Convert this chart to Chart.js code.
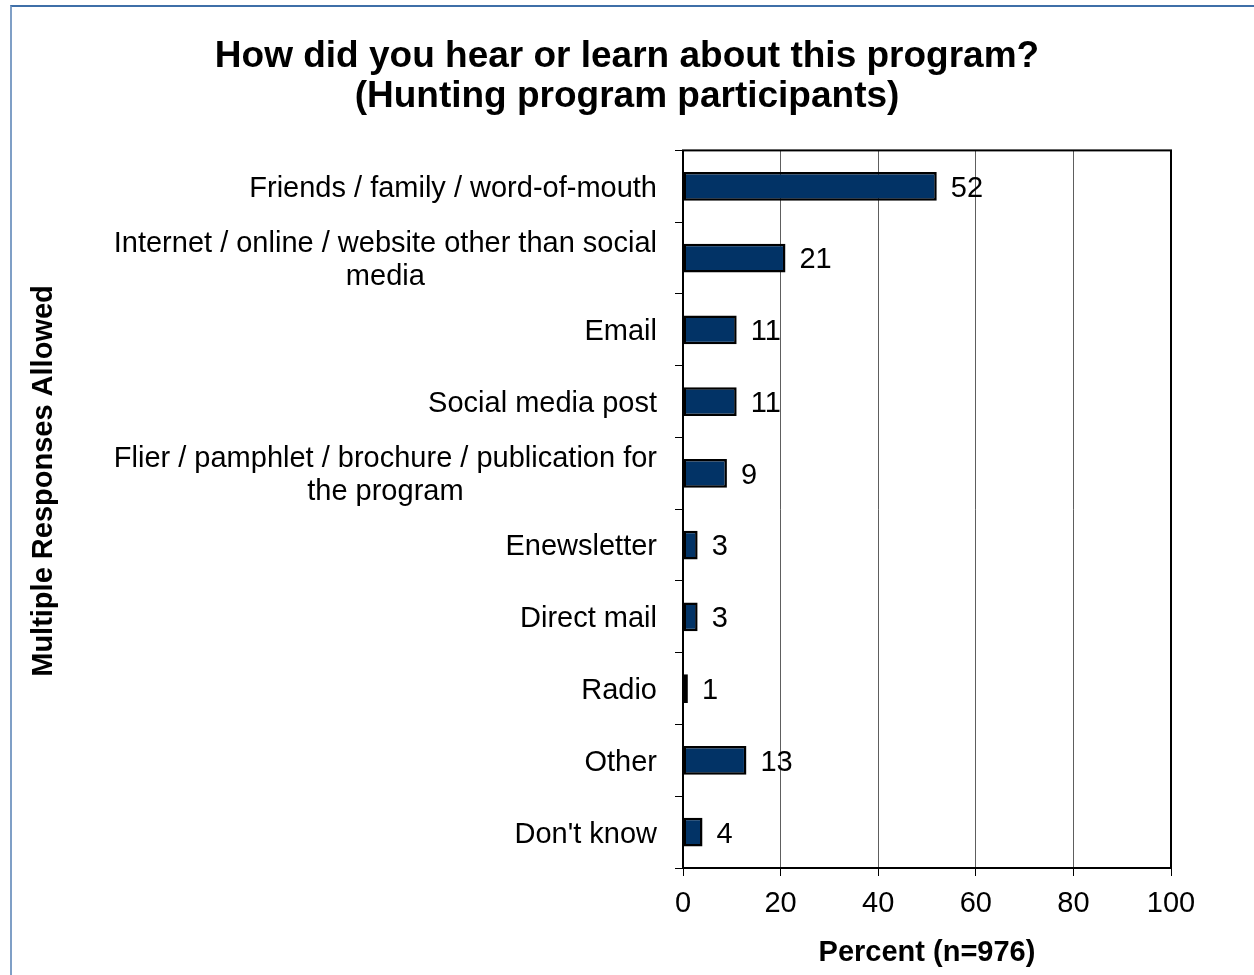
<!DOCTYPE html>
<html>
<head>
<meta charset="utf-8">
<title>How did you hear or learn about this program?</title>
<script src="https://cdn.jsdelivr.net/npm/chart.js@4.4.1/dist/chart.umd.min.js"></script>
<style>
  html, body { margin: 0; padding: 0; background: #fff; overflow: hidden; }
  #wrap { position: relative; width: 1254px; height: 975px; }
  #frame {
    position: absolute; left: 10px; top: 5px; width: 1300px; height: 1000px;
    border-top: 2px solid #3f6fa8; border-left: 2px solid #7f9fc6;
    box-sizing: border-box; pointer-events: none;
  }
  canvas { position: absolute; left: 0; top: 0; }
</style>
</head>
<body>
<div id="wrap">
  <canvas id="chart" width="1254" height="975"></canvas>
  <div id="frame"></div>
</div>
<script>
// Survey answers (each entry holds the wrapped lines of one category label)
const categories = [
  ["Friends / family / word-of-mouth"],
  ["Internet / online / website other than social", "media"],
  ["Email"],
  ["Social media post"],
  ["Flier / pamphlet / brochure / publication for", "the program"],
  ["Enewsletter"],
  ["Direct mail"],
  ["Radio"],
  ["Other"],
  ["Don't know"]
];

// Percent of respondents naming each source
const percents = [52, 21, 11, 11, 9, 3, 3, 1, 13, 4];

// Percent axis ticks
const xTicks = [0, 20, 40, 60, 80, 100];

const titleLines = [
  "How did you hear or learn about this program?",
  "(Hunting program participants)"
];
const xTitle = "Percent (n=976)";
const yTitle = "Multiple Responses Allowed";

const FONT = "'Liberation Sans', Arial, Helvetica, sans-serif";
Chart.defaults.font.family = FONT;
Chart.defaults.color = "#000";

// Category labels: right-aligned block, wrapped lines centred on each other
const categoryLabels = {
  id: "categoryLabels",
  afterDraw(chart) {
    const { ctx } = chart;
    const y = chart.scales.y;
    const right = chart.chartArea.left - 26;
    const lineGap = 33;
    ctx.save();
    ctx.font = "29px " + FONT;
    ctx.fillStyle = "#000";
    ctx.textAlign = "center";
    ctx.textBaseline = "alphabetic";
    categories.forEach((lines, i) => {
      const cy = y.getPixelForValue(i);
      const w = Math.max(...lines.map(l => ctx.measureText(l).width));
      const cx = right - w / 2;
      lines.forEach((line, j) => {
        const ly = cy + (j - (lines.length - 1) / 2) * lineGap + 10.4;
        ctx.fillText(line, cx, ly);
      });
    });
    ctx.restore();
  }
};

// Value labels just past the end of each bar
const valueLabels = {
  id: "valueLabels",
  afterDatasetsDraw(chart) {
    const { ctx } = chart;
    const meta = chart.getDatasetMeta(0);
    ctx.save();
    ctx.font = "29px " + FONT;
    ctx.fillStyle = "#000";
    ctx.textAlign = "left";
    ctx.textBaseline = "alphabetic";
    meta.data.forEach((bar, i) => {
      ctx.fillText(String(percents[i]), bar.x + 14, bar.y + 10.4);
    });
    ctx.restore();
  }
};

// Black box round the plot area
const plotFrame = {
  id: "plotFrame",
  afterDatasetsDraw(chart) {
    const { ctx, chartArea: a } = chart;
    ctx.save();
    ctx.strokeStyle = "#000";
    ctx.lineWidth = 2;
    ctx.strokeRect(a.left, a.top, a.right - a.left, a.bottom - a.top);
    ctx.restore();
  }
};

// Vertical axis title, centred on the whole figure height
const verticalTitle = {
  id: "verticalTitle",
  afterDraw(chart) {
    const { ctx } = chart;
    ctx.save();
    ctx.font = "bold 29px " + FONT;
    ctx.fillStyle = "#000";
    ctx.textAlign = "center";
    ctx.textBaseline = "alphabetic";
    ctx.translate(52, 481);
    ctx.rotate(-Math.PI / 2);
    ctx.fillText(yTitle, 0, 0);
    ctx.restore();
  }
};

new Chart(document.getElementById("chart"), {
  type: "bar",
  data: {
    labels: categories,
    datasets: [{
      data: percents,
      backgroundColor: "#023366",
      borderColor: "#000",
      borderWidth: 2.5,
      borderSkipped: false,
      barPercentage: 0.4,
      categoryPercentage: 1.0
    }]
  },
  options: {
    indexAxis: "y",
    responsive: false,
    animation: false,
    // equal side padding keeps the title centred on the page
    layout: { padding: { left: 83, right: 83, top: 0, bottom: 0 } },
    plugins: {
      legend: { display: false },
      tooltip: { enabled: false },
      title: {
        display: true,
        text: titleLines,
        color: "#000",
        font: { size: 37, weight: "bold", lineHeight: 1.1 },
        padding: { top: 36, bottom: 33 }
      }
    },
    scales: {
      x: {
        type: "linear",
        position: "bottom",
        min: 0,
        max: 100,
        afterBuildTicks(scale) {
          scale.ticks = xTicks.map(v => ({ value: v }));
        },
        ticks: { font: { size: 29 }, color: "#000", padding: 11 },
        grid: { color: "#5e5e5e", lineWidth: 1, tickLength: 8, tickColor: "#000", tickWidth: 1 },
        border: { display: false },
        title: {
          display: true,
          text: xTitle,
          color: "#000",
          font: { size: 29, weight: "bold" },
          padding: { top: 0, bottom: 5 }
        },
        afterFit(scale) { scale.height = 107; }
      },
      y: {
        type: "category",
        position: "left",
        ticks: { display: false },
        grid: { drawOnChartArea: false, offset: true, tickLength: 8, tickColor: "#000", tickWidth: 1 },
        border: { display: false },
        afterFit(scale) { scale.width = 600; }
      }
    }
  },
  plugins: [plotFrame, valueLabels, categoryLabels, verticalTitle]
});
</script>
</body>
</html>
